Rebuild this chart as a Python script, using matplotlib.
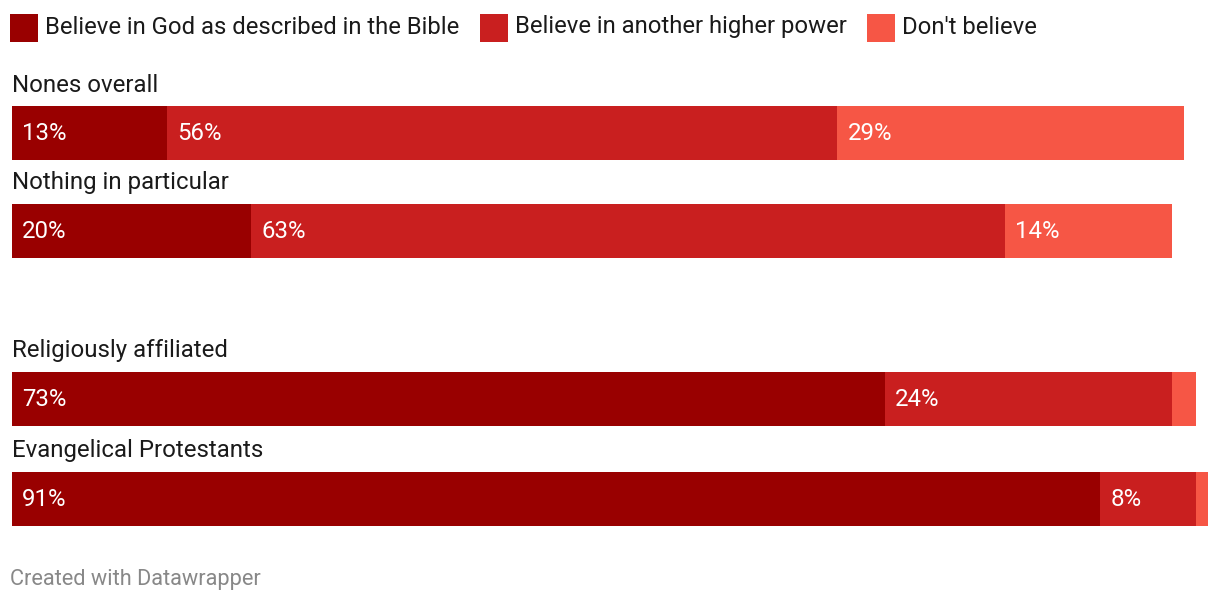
import matplotlib
matplotlib.use("Agg")
import matplotlib.pyplot as plt
from matplotlib.patches import Rectangle

plt.rcParams['font.family'] = ['Roboto', 'DejaVu Sans']

groups = ["Nones overall", "Nothing in particular", "Religiously affiliated", "Evangelical Protestants"]
series = ["Believe in God as described in the Bible", "Believe in another higher power", "Don't believe"]
god = [13, 20, 73, 91]
higher = [56, 63, 24, 8]
dont = [29, 14, 2, 1]
colors = ["#990000", "#c91f1f", "#f65645"]

W, H = 1220, 602
fig = plt.figure(figsize=(W / 100, H / 100), dpi=100)
# axis in pixel units vertically, percent horizontally
ax = fig.add_axes([12 / W, 0, 1196 / W, 1])
ax.set_xlim(0, 100)
ax.set_ylim(H, 0)
ax.axis("off")

centers = [133, 231, 399, 499]
bar_h = 54
values = [god, higher, dont]
for i, g in enumerate(groups):
    left = 0
    for j, vals in enumerate(values):
        v = vals[i]
        ax.barh(centers[i], v, left=left, height=bar_h, color=colors[j], linewidth=0)
        if v >= 5:
            ax.text(left + 0.85, centers[i], f"{v}%", color="white", fontsize=17.3,
                    va="center", ha="left")
        left += v
    ax.text(0, centers[i] - bar_h / 2 - 9.5, g, fontsize=17.3, color="#1a1a1a",
            va="bottom", ha="left")

# legend
leg_x = [10, 480, 867]
for x, lab, c in zip(leg_x, series, colors):
    fig.patches.append(Rectangle((x / W, 1 - 42 / H), 28 / W, 28 / H,
                                 transform=fig.transFigure, color=c, linewidth=0))
    fig.text((x + 35) / W, 1 - 27 / H, lab, fontsize=17.2, color="#1a1a1a",
             va="center", ha="left")

fig.text(10 / W, 1 - 579.5 / H, "Created with Datawrapper", fontsize=15.7,
         color="#888888", va="center", ha="left")

fig.savefig("out.png", dpi=100)
